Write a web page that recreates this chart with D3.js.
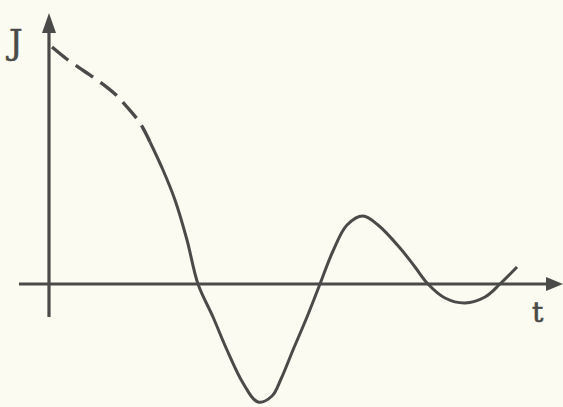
<!DOCTYPE html>
<html lang="en">
<head>
<meta charset="UTF-8">
<title>J(t)</title>
<script src="https://cdnjs.cloudflare.com/ajax/libs/d3/7.8.5/d3.min.js"></script>
<style>
    * { margin: 0; padding: 0; box-sizing: border-box; }
    body { background-color: #fcfbf1; }
    svg { display: block; }
</style>
</head>
<body>
<div id="chart"></div>
<script>
    // dashed start of the curve (t, J)
    const dashedT = [0.06, 0.38, 0.70, 1.02, 1.32, 1.56, 1.82, 2.02];
    const dashedJ = [4.74, 4.48, 4.26, 4.04, 3.80, 3.54, 3.22, 2.84];

    // solid, damped oscillation
    const solidT = [2.02, 2.28, 2.52, 2.76, 2.98, 3.28, 3.56, 3.88, 4.18, 4.46, 4.64, 4.88, 5.16, 5.42,
                    5.68, 5.96, 6.28, 6.58, 7.02, 7.32, 7.58, 7.92, 8.32, 8.72, 9.02, 9.36];
    const solidJ = [2.84, 2.28, 1.68, 0.88, 0.00, -0.66, -1.32, -1.98, -2.36, -2.24, -1.90, -1.32, -0.66, 0.00,
                    0.66, 1.18, 1.36, 1.18, 0.72, 0.34, 0.00, -0.28, -0.38, -0.26, 0.00, 0.34];

    // axis extents
    const tAxis = [-0.6, 10.28];
    const jAxis = [-0.66, 5.42];
    const axisLabels = ['t', 'J'];

    const W = 563, H = 407;
    const ink = '#4a4a48';

    const x = d3.scaleLinear().domain([0, 10]).range([49, 549]);
    const y = d3.scaleLinear().domain([0, 5]).range([284, 34]);

    const svg = d3.select('#chart')
        .append('svg')
        .attr('width', W)
        .attr('height', H);

    // axes
    svg.append('line')
        .attr('x1', x(tAxis[0])).attr('x2', x(tAxis[1]) - 10)
        .attr('y1', y(0)).attr('y2', y(0))
        .attr('stroke', ink).attr('stroke-width', 3.2);

    svg.append('line')
        .attr('x1', x(0)).attr('x2', x(0))
        .attr('y1', y(jAxis[0])).attr('y2', y(jAxis[1]) + 10)
        .attr('stroke', ink).attr('stroke-width', 3.2);

    // arrow heads
    const tx = x(tAxis[1]), ty = y(0);
    svg.append('path')
        .attr('d', `M${tx},${ty} L${tx - 17},${ty - 7} L${tx - 17},${ty + 7} Z`)
        .attr('fill', ink);

    const jx = x(0), jy = y(jAxis[1]);
    svg.append('path')
        .attr('d', `M${jx},${jy} L${jx - 7},${jy + 20} L${jx + 7},${jy + 20} Z`)
        .attr('fill', ink);

    const line = d3.line()
        .x(d => x(d[0]))
        .y(d => y(d[1]))
        .curve(d3.curveCatmullRom.alpha(0.5));

    svg.append('path')
        .datum(dashedT.map((t, i) => [t, dashedJ[i]]))
        .attr('d', line)
        .attr('fill', 'none')
        .attr('stroke', ink)
        .attr('stroke-width', 3.4)
        .attr('stroke-dasharray', '21,9');

    svg.append('path')
        .datum(solidT.map((t, i) => [t, solidJ[i]]))
        .attr('d', line)
        .attr('fill', 'none')
        .attr('stroke', ink)
        .attr('stroke-width', 3)
        .attr('stroke-linejoin', 'round');

    // labels
    svg.append('text')
        .attr('x', 532).attr('y', 322)
        .attr('font-family', 'DejaVu Serif, serif')
        .attr('font-size', 28)
        .attr('fill', ink)
        .attr('stroke', ink)
        .attr('stroke-width', 0.7)
        .text(axisLabels[0]);

    svg.append('text')
        .attr('x', 9).attr('y', 54)
        .attr('font-family', 'DejaVu Serif, serif')
        .attr('font-size', 34)
        .attr('fill', ink)
        .attr('stroke', ink)
        .attr('stroke-width', 0.5)
        .text(axisLabels[1]);
</script>
</body>
</html>
